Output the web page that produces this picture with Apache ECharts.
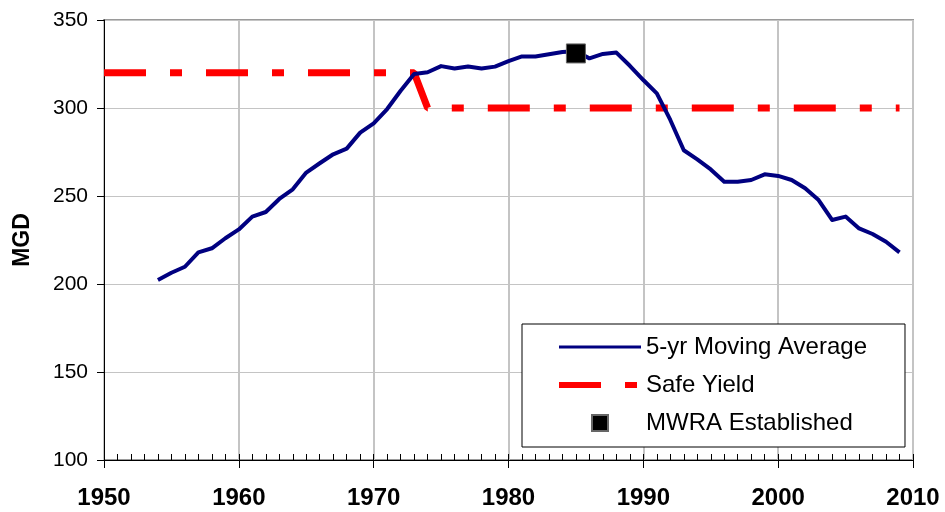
<!DOCTYPE html>
<html>
<head>
<meta charset="utf-8">
<script src="https://cdn.jsdelivr.net/npm/echarts@6/dist/echarts.min.js"></script>
<style>
html,body{margin:0;padding:0;background:#fff;}
#chart{width:945px;height:512px;}
</style>
</head>
<body>
<div id="chart"></div>
<script>
// ---- data ----
var years = [1954,1955,1956,1957,1958,1959,1960,1961,1962,1963,1964,1965,1966,1967,1968,1969,
  1970,1971,1972,1973,1974,1975,1976,1977,1978,1979,1980,1981,1982,1983,1984,1985,1986,1987,1988,1989,
  1990,1991,1992,1993,1994,1995,1996,1997,1998,1999,2000,2001,2002,2003,2004,2005,2006,2007,2008,2009];
var movingAvg = [202.3,206.4,209.8,218,220.3,226,231,238.3,240.9,248.3,253.8,263.3,268.6,273.7,276.9,286,
  291.3,299.4,309.8,319.3,320.3,323.8,322.4,323.6,322.4,323.5,326.6,329.3,329.3,330.5,331.8,332.2,328.2,330.7,331.5,324,
  315.9,308.3,293.2,276,270.8,265.1,258.1,258.1,259.1,262.3,261.4,259.1,254.4,247.7,236.4,238.3,231.6,228.4,224,218];
var safeYieldYears = [1950, 1973, 1974, 2009];
var safeYieldValues = [320, 320, 300, 300];
var mwraYear = [1985];
var mwraValue = [331];
var xTicks = [1950, 1960, 1970, 1980, 1990, 2000, 2010];
var yTicks = [100, 150, 200, 250, 300, 350];
var seriesNames = ['5-yr Moving Average', 'Safe Yield', 'MWRA Established'];

function pairs(xs, ys){ return xs.map(function(x,i){ return [x, ys[i]]; }); }

var FONT = "'Liberation Sans', Arial, sans-serif";
var chart = echarts.init(document.getElementById('chart'), null, {renderer:'canvas'});
chart.setOption({
  animation: false,
  backgroundColor: '#ffffff',
  textStyle: { fontFamily: FONT, color: '#000' },
  grid: { left: 104, right: 32, top: 20, bottom: 52, show: true, borderColor: '#9a9a9a', borderWidth: 2, backgroundColor: 'transparent' },
  xAxis: [{
    type: 'value', min: xTicks[0], max: xTicks[xTicks.length-1], interval: 10,
    axisLine: { show: true, onZero: false, lineStyle: { color: '#000', width: 1 } },
    axisTick: { show: true, inside: false, length: 8, lineStyle: { color: '#000' } },
    axisLabel: { fontSize: 24, fontWeight: 'bold', color: '#000', margin: 26, fontFamily: FONT,
      formatter: function(v){ return String(v); } },
    splitLine: { show: true, lineStyle: { color: '#c4c4c4', width: 2 } }
  }, {
    type: 'value', min: xTicks[0], max: xTicks[xTicks.length-1], interval: 1, position: 'bottom',
    axisLine: { show: true, onZero: false, lineStyle: { color: '#000', width: 1 } },
    axisTick: { show: true, inside: true, length: 6, interval: 0, lineStyle: { color: '#000', width: 1 } },
    axisLabel: { show: false },
    splitLine: { show: false }
  }],
  yAxis: {
    type: 'value', min: yTicks[0], max: yTicks[yTicks.length-1], interval: 50,
    name: 'MGD', nameLocation: 'middle', nameGap: 70,
    nameTextStyle: { fontSize: 23, fontWeight: 'bold', color: '#000', fontFamily: FONT },
    axisLine: { show: true, lineStyle: { color: '#000', width: 1 } },
    axisTick: { show: true, inside: false, length: 7, lineStyle: { color: '#000' } },
    axisLabel: { fontSize: 21, color: '#000', margin: 16, fontFamily: FONT },
    splitLine: { show: true, lineStyle: { color: '#c4c4c4', width: 1 } }
  },
  legend: {
    orient: 'vertical', left: 522, top: 324,
    padding: [11, 38, 12, 34], itemGap: 14, itemWidth: 82, itemHeight: 16,
    symbolKeepAspect: true,
    backgroundColor: '#fff', borderColor: '#000', borderWidth: 1, borderRadius: 0,
    textStyle: { fontSize: 24, color: '#000', fontFamily: FONT },
    data: [
      { name: seriesNames[0], lineStyle: { width: 3 }, itemStyle: { opacity: 0 } },
      { name: seriesNames[1], lineStyle: { width: 6 }, itemStyle: { opacity: 0 } },
      { name: seriesNames[2], icon: 'path://M0,0L10,0L10,10L0,10Z' }
    ]
  },
  series: [{
    name: seriesNames[1], type: 'line', xAxisIndex: 0,
    data: pairs(safeYieldYears, safeYieldValues),
    symbol: 'none', z: 2,
    lineStyle: { color: '#ff0000', width: 7, type: [42, 24, 12, 24], cap: 'butt' },
    itemStyle: { color: '#ff0000' }
  }, {
    name: seriesNames[0], type: 'line', xAxisIndex: 0,
    data: pairs(years, movingAvg),
    symbol: 'none', z: 3,
    lineStyle: { color: '#000080', width: 4, join: 'round' },
    itemStyle: { color: '#000080' }
  }, {
    name: seriesNames[2], type: 'scatter', xAxisIndex: 0,
    data: pairs(mwraYear, mwraValue),
    symbol: 'rect', symbolSize: 19, z: 4,
    itemStyle: { color: '#000', borderColor: '#666', borderWidth: 1, opacity: 1 }
  }]
});
</script>
</body>
</html>
